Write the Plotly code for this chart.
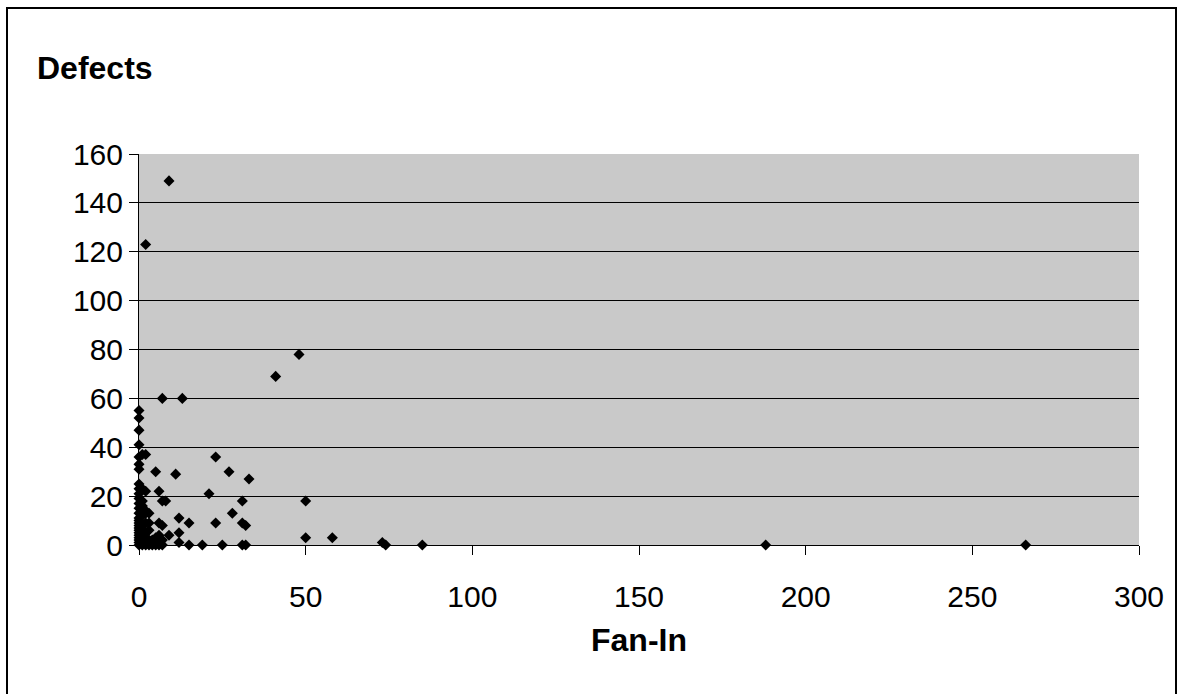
import plotly.graph_objects as go

# Fan-In vs Defects
fan_in = (
    [0] * 26
    + [1] * 11
    + [2] * 10
    + [3] * 5
    + [4] * 2
    + [5] * 4
    + [6] * 4
    + [7] * 5
    + [8, 9, 9, 11, 12, 12, 12, 13, 15, 15, 19, 21, 23, 23, 25, 27, 28,
       31, 31, 31, 32, 32, 33, 41, 48, 50, 50, 58, 73, 74, 85, 188, 266]
)
defects = (
    [55, 52, 47, 41, 36, 33, 31, 25, 23, 21, 19, 17, 15, 13, 11, 10, 9, 8, 7, 6, 5, 4, 3, 2, 1, 0]
    + [37, 23, 18, 16, 12, 8, 6, 4, 2, 1, 0]
    + [123, 37, 22, 14, 13, 9, 5, 3, 1, 0]
    + [13, 9, 6, 2, 0]
    + [2, 0]
    + [30, 3, 1, 0]
    + [22, 9, 4, 0]
    + [60, 18, 8, 2, 0]
    + [18, 149, 4, 29, 11, 5, 1, 60, 9, 0, 0, 21, 36, 9, 0, 30, 13,
       18, 9, 0, 8, 0, 27, 69, 78, 18, 3, 3, 1, 0, 0, 0, 0]
)

x_ticks = [0, 50, 100, 150, 200, 250, 300]
y_ticks = [0, 20, 40, 60, 80, 100, 120, 140, 160]

FONT = "Liberation Sans, Arial, sans-serif"

fig = go.Figure()
fig.add_trace(go.Scatter(
    x=fan_in, y=defects, mode="markers",
    marker=dict(symbol="diamond", size=8.5, color="black", line=dict(width=0)),
    cliponaxis=False, showlegend=False,
))

fig.update_layout(
    width=1180, height=694,
    margin=dict(l=139, r=41, t=154, b=149),
    paper_bgcolor="white",
    plot_bgcolor="#c9c9c9",
    font=dict(family=FONT, size=30, color="black"),
    xaxis=dict(
        range=[0, 300], tickvals=x_ticks, showgrid=False, zeroline=False,
        showline=True, linecolor="black", linewidth=1,
        ticks="outside", ticklen=9, tickcolor="black",
        ticklabelstandoff=16,
        tickfont=dict(size=30),
    ),
    yaxis=dict(
        range=[0, 160], tickvals=y_ticks, showgrid=True, gridcolor="black",
        gridwidth=1, zeroline=False,
        showline=True, linecolor="black", linewidth=1,
        ticks="outside", ticklen=9, tickcolor="black",
        tickfont=dict(size=30),
    ),
    annotations=[
        dict(text="<b>Defects</b>", xref="paper", yref="paper",
             x=(35 - 139) / 1000, y=(545 - 68) / 391, xanchor="left", yanchor="middle",
             showarrow=False, font=dict(size=32)),
        dict(text="<b>Fan-In</b>", xref="paper", yref="paper",
             x=0.5, y=(545 - 640) / 391, xanchor="center", yanchor="middle",
             showarrow=False, font=dict(size=32)),
    ],
    shapes=[
        dict(type="rect", xref="paper", yref="paper",
             x0=(7 - 139) / 1000, x1=(1176 - 139) / 1000,
             y0=(545 - 710) / 391, y1=(545 - 8) / 391,
             line=dict(color="black", width=2), fillcolor="rgba(0,0,0,0)", layer="below"),
    ],
)

fig.write_html("out.html")
